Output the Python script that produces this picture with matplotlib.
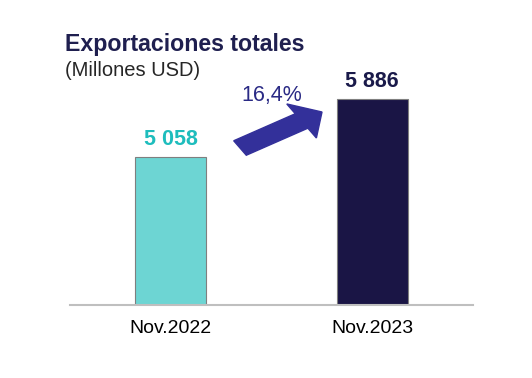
import matplotlib
matplotlib.use("Agg")
import matplotlib.pyplot as plt
from matplotlib.patches import FancyArrow

plt.rcParams['font.family'] = ['Liberation Sans', 'DejaVu Sans']

categories = ["Nov.2022", "Nov.2023"]
values = [5058, 5886]
value_labels = ["5 058", "5 886"]
growth_label = "16,4%"

bar_colors = ["#6DD5D3", "#1A1545"]
label_colors = ["#1EBDBD", "#1A1A4A"]

fig = plt.figure(figsize=(5.32, 3.78), dpi=100)
ax = fig.add_axes([70/532, 73/378, 403/532, 245/378])

x = list(range(len(categories)))
ax.bar(x, values, width=0.35, color=bar_colors, edgecolor="#7F7F7F", linewidth=0.8, zorder=2)
ax.set_xlim(-0.5, 1.5)
ax.set_ylim(2945, 6442)

for xi, v, lab, c in zip(x, values, value_labels, label_colors):
    ax.annotate(lab, (xi, v), xytext=(0, 5), textcoords="offset points",
                ha="center", va="bottom", fontsize=15.5, fontweight="bold", color=c)

for s in ["top", "right", "left"]:
    ax.spines[s].set_visible(False)
ax.spines["bottom"].set_color("#BFBFBF")
ax.spines["bottom"].set_linewidth(1.5)
ax.set_yticks([])
ax.set_xticks(x)
ax.set_xticklabels(categories, fontsize=14, color="#000000")
ax.tick_params(axis="x", length=0, pad=11)

# growth arrow
arrow = FancyArrow(240/532, 1 - 148/378, (322-240)/532, (148-112)/378,
                   width=17/378, head_width=40/378, head_length=24/532,
                   length_includes_head=True, color="#33309A",
                   transform=fig.transFigure, zorder=3)
fig.patches.append(arrow)
fig.text(272/532, 1 - 96/378, growth_label, ha="center", va="center",
         fontsize=15.5, color="#2A2A85")

fig.text(65/532, 1 - 44/378, "Exportaciones totales", ha="left", va="center",
         fontsize=16.7, fontweight="bold", color="#1F1F4F")
fig.text(65/532, 1 - 70/378, "(Millones USD)", ha="left", va="center",
         fontsize=14.5, color="#262626")

fig.savefig("out.png", dpi=100)
